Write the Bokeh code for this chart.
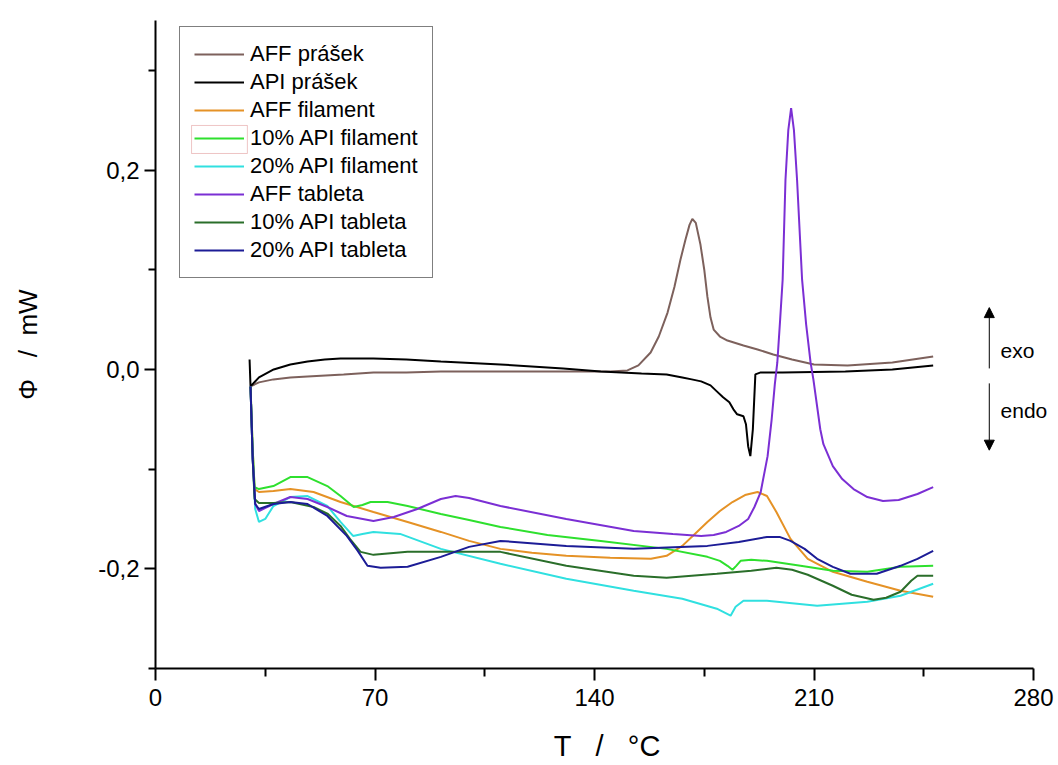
from bokeh.plotting import figure
from bokeh.models import (Range1d, FixedTicker, Legend, LegendItem, Label, Arrow,
                          NormalHead, BoxAnnotation, CustomJSTickFormatter)
from bokeh.embed import file_html
from bokeh.resources import INLINE

# ---------------- data ----------------
series_names = ["AFF prášek", "API prášek", "AFF filament", "10% API filament",
                "20% API filament", "AFF tableta", "10% API tableta", "20% API tableta"]

aff_prasek_T = [30.3, 33, 37.6, 43, 48.5, 60, 69.5, 80, 91, 110, 130, 145, 150.5, 154, 157.9,
                160.5, 163.3, 165.5, 167.4, 169, 170.3, 171.2, 172.3, 173.8, 175, 176, 177, 178,
                180, 182.4, 187.5, 192, 197, 203, 210, 220.7, 235, 248]
aff_prasek_P = [-0.017, -0.013, -0.010, -0.008, -0.007, -0.005, -0.003, -0.003, -0.002, -0.002,
                -0.002, -0.002, -0.001, 0.004, 0.017, 0.033, 0.057, 0.083, 0.110, 0.130, 0.145,
                0.151, 0.147, 0.125, 0.100, 0.073, 0.052, 0.040, 0.033, 0.029, 0.024, 0.020,
                0.015, 0.010, 0.005, 0.004, 0.007, 0.013]

api_prasek_T = [30.0, 30.3, 33, 37.7, 43, 48.5, 54, 59, 64, 69.5, 80, 91, 110, 130, 142, 155, 163,
                168, 171, 174, 177, 179, 181, 183, 184.3, 185.5, 187.5, 188.3, 189, 189.7, 190.5,
                191.3, 193, 200, 220, 235, 248]
api_prasek_P = [0.010, -0.017, -0.008, 0.000, 0.005, 0.008, 0.010, 0.011, 0.011, 0.011, 0.010,
                0.008, 0.005, 0.001, -0.002, -0.004, -0.005, -0.008, -0.010, -0.012, -0.016,
                -0.022, -0.028, -0.033, -0.040, -0.045, -0.047, -0.055, -0.077, -0.087, -0.060,
                -0.005, -0.003, -0.003, -0.002, 0.000, 0.004]

aff_fil_T = [30.3, 31, 31.6, 33, 37.6, 43, 50.4, 59, 69.5, 80.4, 91, 100, 110, 120, 131, 145, 158,
             163, 168, 172, 176, 180, 184, 188, 192, 195, 198, 202.5, 208, 216, 227, 237.6, 248]
aff_fil_P = [-0.017, -0.080, -0.120, -0.123, -0.122, -0.120, -0.123, -0.133, -0.143, -0.153,
             -0.163, -0.172, -0.180, -0.184, -0.187, -0.189, -0.190, -0.187, -0.177, -0.165,
             -0.153, -0.142, -0.133, -0.126, -0.123, -0.127, -0.143, -0.170, -0.190, -0.203,
             -0.213, -0.222, -0.228]

api10_fil_T = [30.3, 31, 31.6, 33, 37.6, 43, 48.5, 54.8, 59, 63.2, 66, 68.6, 74, 80.4, 91, 100,
               110, 125, 142, 163, 176, 180, 182.4, 184, 185.2, 186.6, 190, 195, 205.7, 216, 227,
               237.6, 248]
api10_fil_P = [-0.017, -0.080, -0.118, -0.120, -0.117, -0.108, -0.108, -0.117, -0.127, -0.138,
               -0.136, -0.133, -0.133, -0.137, -0.145, -0.151, -0.158, -0.166, -0.172, -0.180,
               -0.188, -0.192, -0.197, -0.201, -0.197, -0.192, -0.191, -0.192, -0.197, -0.202,
               -0.203, -0.198, -0.197]

api20_fil_T = [30.3, 31, 31.8, 33, 35, 37.6, 43, 48.5, 54.8, 59, 63, 66, 69.5, 78, 91, 110, 131,
               152.5, 168, 179, 183.4, 185, 187.5, 195, 211, 227, 237.6, 248]
api20_fil_P = [-0.017, -0.090, -0.140, -0.153, -0.150, -0.137, -0.128, -0.127, -0.137, -0.153,
               -0.167, -0.165, -0.163, -0.165, -0.180, -0.195, -0.210, -0.222, -0.230, -0.240,
               -0.247, -0.238, -0.232, -0.232, -0.237, -0.233, -0.227, -0.215]

aff_tab_T = [30.3, 31, 31.8, 33, 37.6, 43, 48.5, 54.8, 61, 69.5, 76, 83.5, 91, 95.7, 100, 110, 131,
             152.5, 165, 174, 178, 182, 186, 189, 191, 193, 195.2, 196.5, 197.5, 198.3, 199.2,
             200, 200.9, 201.8, 202.7, 203.6, 204.6, 206.2, 207.5, 208.9, 209.8, 212, 213, 216,
             219, 222.6, 227, 232, 237, 243, 248]
aff_tab_P = [-0.017, -0.090, -0.135, -0.142, -0.135, -0.128, -0.130, -0.138, -0.147, -0.152,
             -0.148, -0.140, -0.130, -0.127, -0.129, -0.137, -0.150, -0.162, -0.165, -0.167,
             -0.166, -0.163, -0.157, -0.150, -0.138, -0.123, -0.087, -0.050, -0.015, 0.007,
             0.050, 0.090, 0.190, 0.240, 0.262, 0.240, 0.190, 0.090, 0.045, 0.007, -0.010,
             -0.060, -0.075, -0.097, -0.110, -0.120, -0.128, -0.132, -0.131, -0.125, -0.118]

api10_tab_T = [30.3, 31, 31.6, 33, 37.6, 43, 50.4, 55, 59, 62, 65.4, 69.5, 80.4, 91, 110, 131,
               152.5, 163, 179, 190, 198, 203, 208, 216, 222, 229, 233, 237.6, 241, 243, 248]
api10_tab_P = [-0.017, -0.090, -0.130, -0.134, -0.134, -0.133, -0.138, -0.145, -0.157, -0.170,
               -0.183, -0.186, -0.183, -0.183, -0.183, -0.197, -0.207, -0.209, -0.205, -0.202,
               -0.199, -0.201, -0.206, -0.217, -0.226, -0.231, -0.229, -0.223, -0.212, -0.207,
               -0.207]

api20_tab_T = [30.3, 31, 31.8, 33, 37.6, 43, 48.5, 54.8, 61, 64.5, 67.6, 71.8, 80.4, 91, 100, 110,
               131, 152.5, 176, 186, 195, 199, 202.5, 207, 211, 216, 221.6, 230, 237.6, 243, 248]
api20_tab_P = [-0.017, -0.090, -0.135, -0.140, -0.135, -0.133, -0.135, -0.147, -0.167, -0.182,
               -0.197, -0.199, -0.198, -0.188, -0.178, -0.172, -0.177, -0.180, -0.177, -0.173,
               -0.168, -0.168, -0.172, -0.180, -0.190, -0.198, -0.205, -0.205, -0.197, -0.190,
               -0.182]

x_major_ticks = [0, 70, 140, 210, 280]
x_minor_ticks = [35, 105, 175, 245]
y_major_ticks = [-0.2, 0.0, 0.2]
y_minor_ticks = [-0.3, -0.1, 0.1, 0.3]

# ---------------- style ----------------
colors = ["#7d615c", "#000000", "#e59226", "#2ee02e", "#30e0e0", "#7b2fd4", "#2a6e2a", "#1c1c96"]
FONT = "Liberation Sans"
NB = "\u00a0"

p = figure(width=1058, height=765, output_backend="svg", toolbar_location=None,
           x_range=Range1d(0, 287.97), y_range=Range1d(-0.3, 0.35),
           min_border_left=155, min_border_right=0, min_border_top=20, min_border_bottom=97)
p.outline_line_color = None
p.grid.visible = False
p.background_fill_color = "white"
p.border_fill_color = "white"

for ax in (p.xaxis[0], p.yaxis[0]):
    ax.axis_line_width = 2
    ax.axis_line_color = "black"
    ax.major_tick_line_width = 2
    ax.minor_tick_line_width = 2
    ax.major_tick_in = 0
    ax.minor_tick_in = 0
    ax.major_label_text_font = FONT
    ax.major_label_text_font_size = "24px"
    ax.major_label_text_color = "black"
    ax.axis_label_text_font = FONT
    ax.axis_label_text_font_style = "normal"
    ax.axis_label_text_color = "black"

p.xaxis.bounds = (0, 280)
p.xaxis.ticker = FixedTicker(ticks=x_major_ticks, minor_ticks=x_minor_ticks)
p.xaxis.major_tick_out = 12
p.xaxis.minor_tick_out = 8
p.xaxis.major_label_standoff = 8
p.xaxis.axis_label = "T" + NB * 3 + "/" + NB * 3 + "°C"
p.xaxis.axis_label_text_font_size = "29px"
p.xaxis.axis_label_standoff = 21

p.yaxis.ticker = FixedTicker(ticks=y_major_ticks, minor_ticks=y_minor_ticks)
p.yaxis.formatter = CustomJSTickFormatter(code="return tick.toFixed(1).replace('.', ',');")
p.yaxis.major_tick_out = 11
p.yaxis.minor_tick_out = 7
p.yaxis.major_label_standoff = 5
p.yaxis.axis_label = "Φ" + NB * 3 + "/" + NB * 2 + "mW"
p.yaxis.axis_label_text_font_size = "26px"
p.yaxis.axis_label_standoff = 52

series = [(aff_prasek_T, aff_prasek_P), (api_prasek_T, api_prasek_P), (aff_fil_T, aff_fil_P),
          (api10_fil_T, api10_fil_P), (api20_fil_T, api20_fil_P), (aff_tab_T, aff_tab_P),
          (api10_tab_T, api10_tab_P), (api20_tab_T, api20_tab_P)]

items = []
for name, (t, phi), c in zip(series_names, series, colors):
    r = p.line(t, phi, line_color=c, line_width=2)
    items.append(LegendItem(label=name, renderers=[r]))

legend = Legend(items=items, location=(24, 390), margin=0, padding=14, spacing=2,
                glyph_width=50, glyph_height=26, label_height=26, label_standoff=6,
                label_text_font=FONT, label_text_font_size="22px", label_text_color="black",
                border_line_color="black", border_line_width=1,
                background_fill_color="white", background_fill_alpha=0.0)
p.add_layout(legend)

# selection frame around the legend symbol of "10% API filament"
p.add_layout(BoxAnnotation(left=11.5, right=29.3, top=0.2447, bottom=0.2166,
                           fill_alpha=0, line_color="#c84040", line_width=1, level="overlay"))

# exo / endo direction marks
p.add_layout(Arrow(end=NormalHead(size=10, fill_color="black", line_color="black"),
                   x_start=265.9, y_start=0.001, x_end=265.9, y_end=0.062,
                   line_width=1, line_color="black"))
p.add_layout(Arrow(end=NormalHead(size=10, fill_color="black", line_color="black"),
                   x_start=265.9, y_start=-0.014, x_end=265.9, y_end=-0.081,
                   line_width=1, line_color="black"))
p.add_layout(Label(x=269.5, y=0.019, text="exo", text_baseline="middle",
                   text_font=FONT, text_font_size="21px", text_color="black"))
p.add_layout(Label(x=269.5, y=-0.041, text="endo", text_baseline="middle",
                   text_font=FONT, text_font_size="21px", text_color="black"))

open("out.html", "w").write(file_html(p, INLINE))
